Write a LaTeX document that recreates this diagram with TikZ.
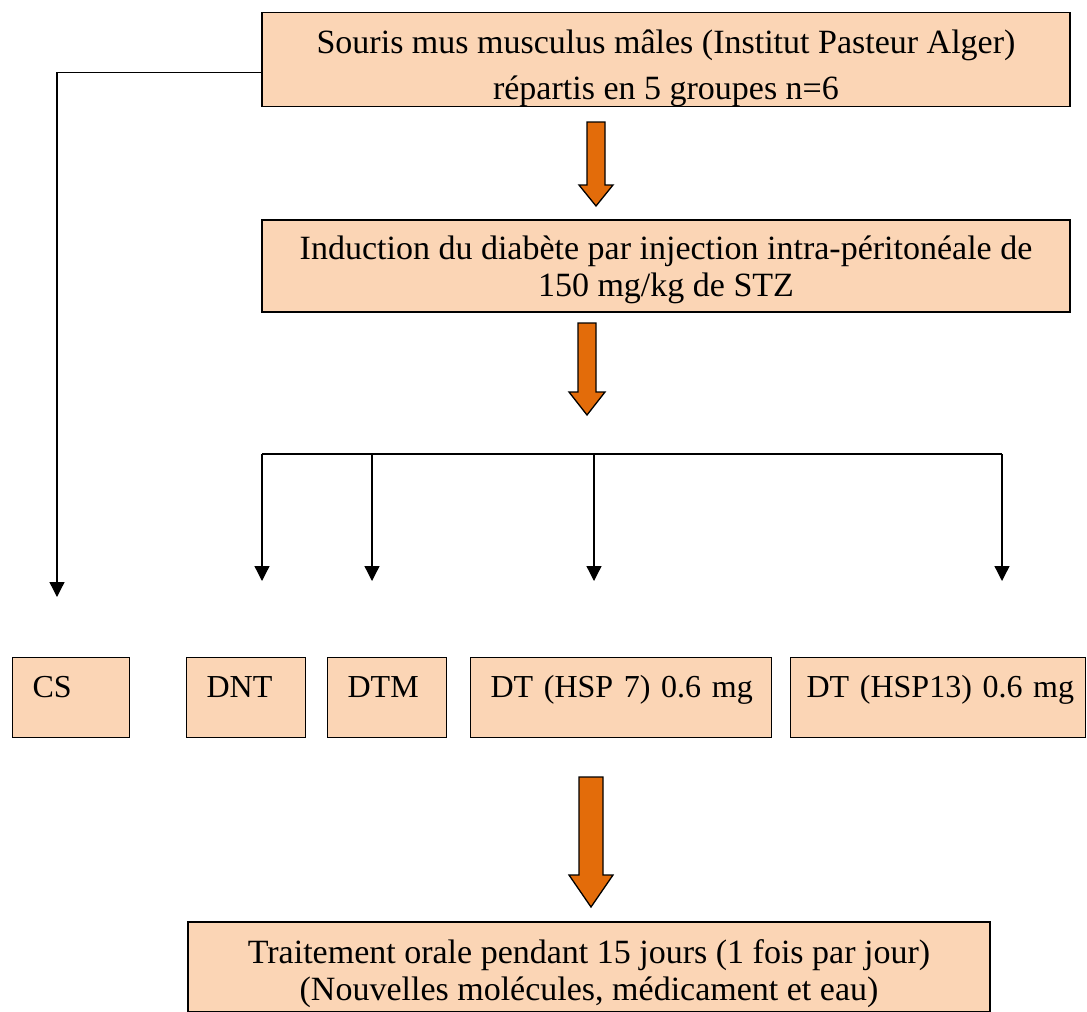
\documentclass[tikz,border=0pt]{standalone}
\usepackage{fontspec}
\setmainfont{Liberation Serif}
\usetikzlibrary{arrows.meta}
\definecolor{peach}{HTML}{FBD5B5}
\definecolor{carrot}{HTML}{E36C0A}
% fat orange arrow: centre x, top y, tip y, shaft half, head half, head length
\newcommand{\fatarrow}[6]{%
  \draw[fat] (#1-#4,#2) -- (#1+#4,#2) -- (#1+#4,#3-#6) -- (#1+#5,#3-#6)
    -- (#1,#3) -- (#1-#5,#3-#6) -- (#1-#4,#3-#6) -- cycle;}

\begin{document}
\begin{tikzpicture}
[x=1pt,y=-1pt,%
  box/.style={draw,fill=peach,line width=1.2pt,align=center,inner sep=0pt,%
    font=\fontsize{34}{37}\selectfont},%
  grp/.style={draw,fill=peach,line width=1.2pt,anchor=north west,align=left,%
    inner xsep=20pt,inner ysep=18pt,text height=22pt,text depth=22pt,%
    font=\fontsize{32}{37}\selectfont},%
  link/.style={line width=1.3pt,-{Triangle[length=15pt,width=15pt]}},%
  fat/.style={draw=black,fill=carrot,line width=1.3pt,line join=miter}]
\useasboundingbox (0,0) rectangle (1087,1012);

% main boxes
\node[box,minimum width=808,minimum height=93] (souris) at (666,59.5)
  {\rule{0pt}{41pt}Souris mus musculus mâles (Institut Pasteur Alger)\\[9pt]
   répartis en 5 groupes n=6};
\node[box,minimum width=808,minimum height=92] (induction) at (666,266)
  {\rule{0pt}{32pt}Induction du diabète par injection intra-péritonéale de\\
   150 mg/kg de STZ};
\node[box,minimum width=802,minimum height=90] (traitement) at (589,967)
  {\rule{0pt}{38pt}Traitement orale pendant 15 jours (1 fois par jour)\\
   (Nouvelles molécules, médicament et eau)};

% groups
\node[grp,text width=77]  (cs)    at (12,657)  {CS};
\node[grp,text width=79]  (dnt)   at (186,657) {DNT};
\node[grp,text width=79]  (dtm)   at (327,657) {DTM};
\node[grp,text width=261] (hsp7)  at (470,657) {\mbox{DT (HSP 7) 0.6 mg}};
\node[grp,text width=263,inner xsep=16pt] (hsp13) at (790,657) {\mbox{DT (HSP13) 0.6 mg}};

% orange arrows
\fatarrow{596}{122}{206}{9}{17}{21}
\fatarrow{587}{323}{415}{9}{18}{23}
\fatarrow{591}{777}{907}{12}{22}{32}

% branches
\coordinate (tipcs)  at (57,597);
\coordinate (br1) at (262,454);
\coordinate (br2) at (372,454);
\coordinate (br3) at (594,454);
\coordinate (br4) at (1002,454);
\coordinate (tipdnt)   at (262,581);
\coordinate (tipdtm)   at (372,581);
\coordinate (tiphsp7)  at (594,581);
\coordinate (tiphsp13) at (1002,581);

\draw[link] ([yshift=-13pt]souris.west) -| (tipcs);
\draw[line width=1.3pt] (br1) -- (br4);
\draw[link] (br1) -- (tipdnt);
\draw[link] (br2) -- (tipdtm);
\draw[link] (br3) -- (tiphsp7);
\draw[link] (br4) -- (tiphsp13);
\end{tikzpicture}
\end{document}
